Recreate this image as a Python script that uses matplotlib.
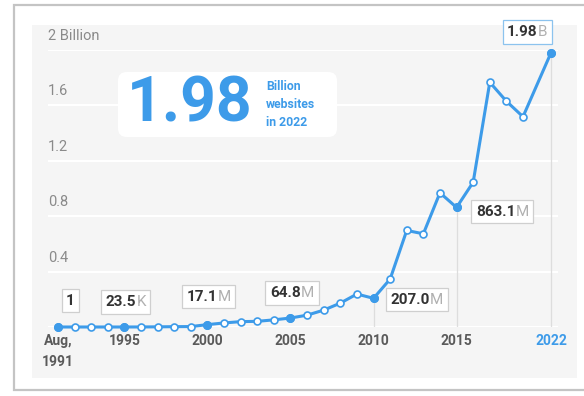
import numpy as np
import matplotlib.pyplot as plt
from matplotlib.patches import FancyBboxPatch, Rectangle

plt.rcParams['font.family'] = ['Roboto', 'DejaVu Sans']

# number of websites, billions
years = [1991, 1992, 1993, 1994, 1995, 1996, 1997, 1998, 1999, 2000,
         2001, 2002, 2003, 2004, 2005, 2006, 2007, 2008, 2009, 2010,
         2011, 2012, 2013, 2014, 2015, 2016, 2017, 2018, 2019, 2022]
sites = [1e-9, 1e-8, 1.3e-7, 2.738e-6, 2.35e-5, 2.576e-4, 1.117e-3, 2.41e-3, 3.18e-3, 0.0171,
         0.0293, 0.0388, 0.0409, 0.0516, 0.0648, 0.0855, 0.1219, 0.1723, 0.238, 0.207,
         0.346, 0.6971, 0.6729, 0.9689, 0.8631, 1.0455, 1.7669, 1.6303, 1.5182, 1.98]

highlight = [1991, 1995, 2000, 2005, 2010, 2015, 2022]
labels_num = ['1', '23.5', '17.1', '64.8', '207.0', '863.1', '1.98']
labels_unit = ['', 'K', 'M', 'M', 'M', 'M', 'B']
label_offsets = [(9, 19), (1, 18), (1, 20), (1, 18), (31, -1), (33, -3), (-17, 15)]

xtick_labels = ['Aug,\n1991', '1995', '2000', '2005', '2010', '2015', '2022']
yticks = [0.4, 0.8, 1.2, 1.6, 2.0]
ytick_labels = ['0.4', '0.8', '1.2', '1.6', '2 Billion']

blue = '#3d9be9'
W, H = 584, 396

fig = plt.figure(figsize=(W / 100, H / 100), dpi=100)
fig.patch.set_facecolor('white')

# card frame and grey panel
fig.patches.append(Rectangle((14 / W, 1 - 390 / H), 1.2, (390 - 5) / H, transform=fig.transFigure,
                             facecolor='white', edgecolor='#c4c4c4', lw=1.6, zorder=-2))
fig.patches.append(Rectangle((32 / W, 1 - 378 / H), (577 - 32) / W, (378 - 25) / H,
                             transform=fig.transFigure, facecolor='#f5f5f5', edgecolor='none', zorder=-1))

ax = fig.add_axes([48 / W, 1 - 327 / H, (558 - 48) / W, (327 - 50) / H])
ax.set_facecolor('none')

k = 0.562


def fwd(x):
    x = np.asarray(x, dtype=float)
    return np.where(x <= 2019, x, 2019 + (x - 2019) * k)


def inv(y):
    y = np.asarray(y, dtype=float)
    return np.where(y <= 2019, y, 2019 + (y - 2019) / k)


ax.set_xscale('function', functions=(fwd, inv))
ax.set_xlim(1990.4, 2022.75)
ax.set_ylim(0, 2.0)

for sp in ax.spines.values():
    sp.set_visible(False)

for v in [0] + yticks:
    ax.axhline(v, color='white', lw=1.5, zorder=1)
for v, lab in zip(yticks, ytick_labels):
    ax.annotate(lab, xy=(0, v), xycoords=ax.get_yaxis_transform(), xytext=(0, 5),
                textcoords='offset points', ha='left', va='bottom', fontsize=10.5, color='#8a8a8a')

hl_vals = [sites[years.index(y)] for y in highlight]
ax.vlines(highlight[4:], 0, hl_vals[4:], color='#dddddd', lw=0.9, zorder=1)

ax.plot(years, sites, color=blue, lw=2.2, zorder=3, marker='o', markersize=5,
        markerfacecolor='white', markeredgecolor=blue, markeredgewidth=1.2, clip_on=False)
ax.plot(highlight, hl_vals, 'o', color=blue, markersize=5.5, zorder=4, clip_on=False)

for y, v, num, unit, off in zip(highlight, hl_vals, labels_num, labels_unit, label_offsets):
    edge = '#8cc3ee' if unit == 'B' else '#cfcfcf'
    box = ax.annotate(num + unit, xy=(y, v), xytext=off, textcoords='offset points',
                      ha='center', va='center', fontsize=11, fontweight='bold', color='none',
                      bbox=dict(boxstyle='square,pad=0.3', fc='white', ec=edge, lw=0.9), zorder=5)
    t1 = ax.annotate(num, xy=(0, 0.5), xycoords=box, ha='left', va='center',
                     fontsize=11, fontweight='bold', color='#333333', zorder=6)
    ax.annotate(unit, xy=(1, 0.5), xycoords=t1, xytext=(0.3, 0), textcoords='offset points',
                ha='left', va='center', fontsize=11, color='#b0b0b0', zorder=6)

ax.set_yticks([])
ax.set_xticks(highlight)
ax.set_xticklabels(xtick_labels, fontsize=10, fontweight='bold', color='#5a5a5a', linespacing=1.6)
ax.tick_params(axis='x', length=0, pad=5)
ax.get_xticklabels()[-1].set_color(blue)

# headline box
fig.patches.append(FancyBboxPatch((118 / W, 1 - 137 / H), (337 - 118) / W, (137 - 72) / H,
                                  boxstyle='round,pad=0,rounding_size=0.015', mutation_aspect=W / H,
                                  transform=fig.transFigure, facecolor='white', edgecolor='none', zorder=7))
fig.text(127 / W, 1 - 105 / H, '1.98', fontsize=45, fontweight='bold', color=blue,
         ha='left', va='center', zorder=8)
fig.text(266 / W, 1 - 104 / H, 'Billion\nwebsites\nin 2022', fontsize=8.8, fontweight='bold',
         color=blue, ha='left', va='center', linespacing=1.5, zorder=8)

fig.savefig('out.png', dpi=100)
